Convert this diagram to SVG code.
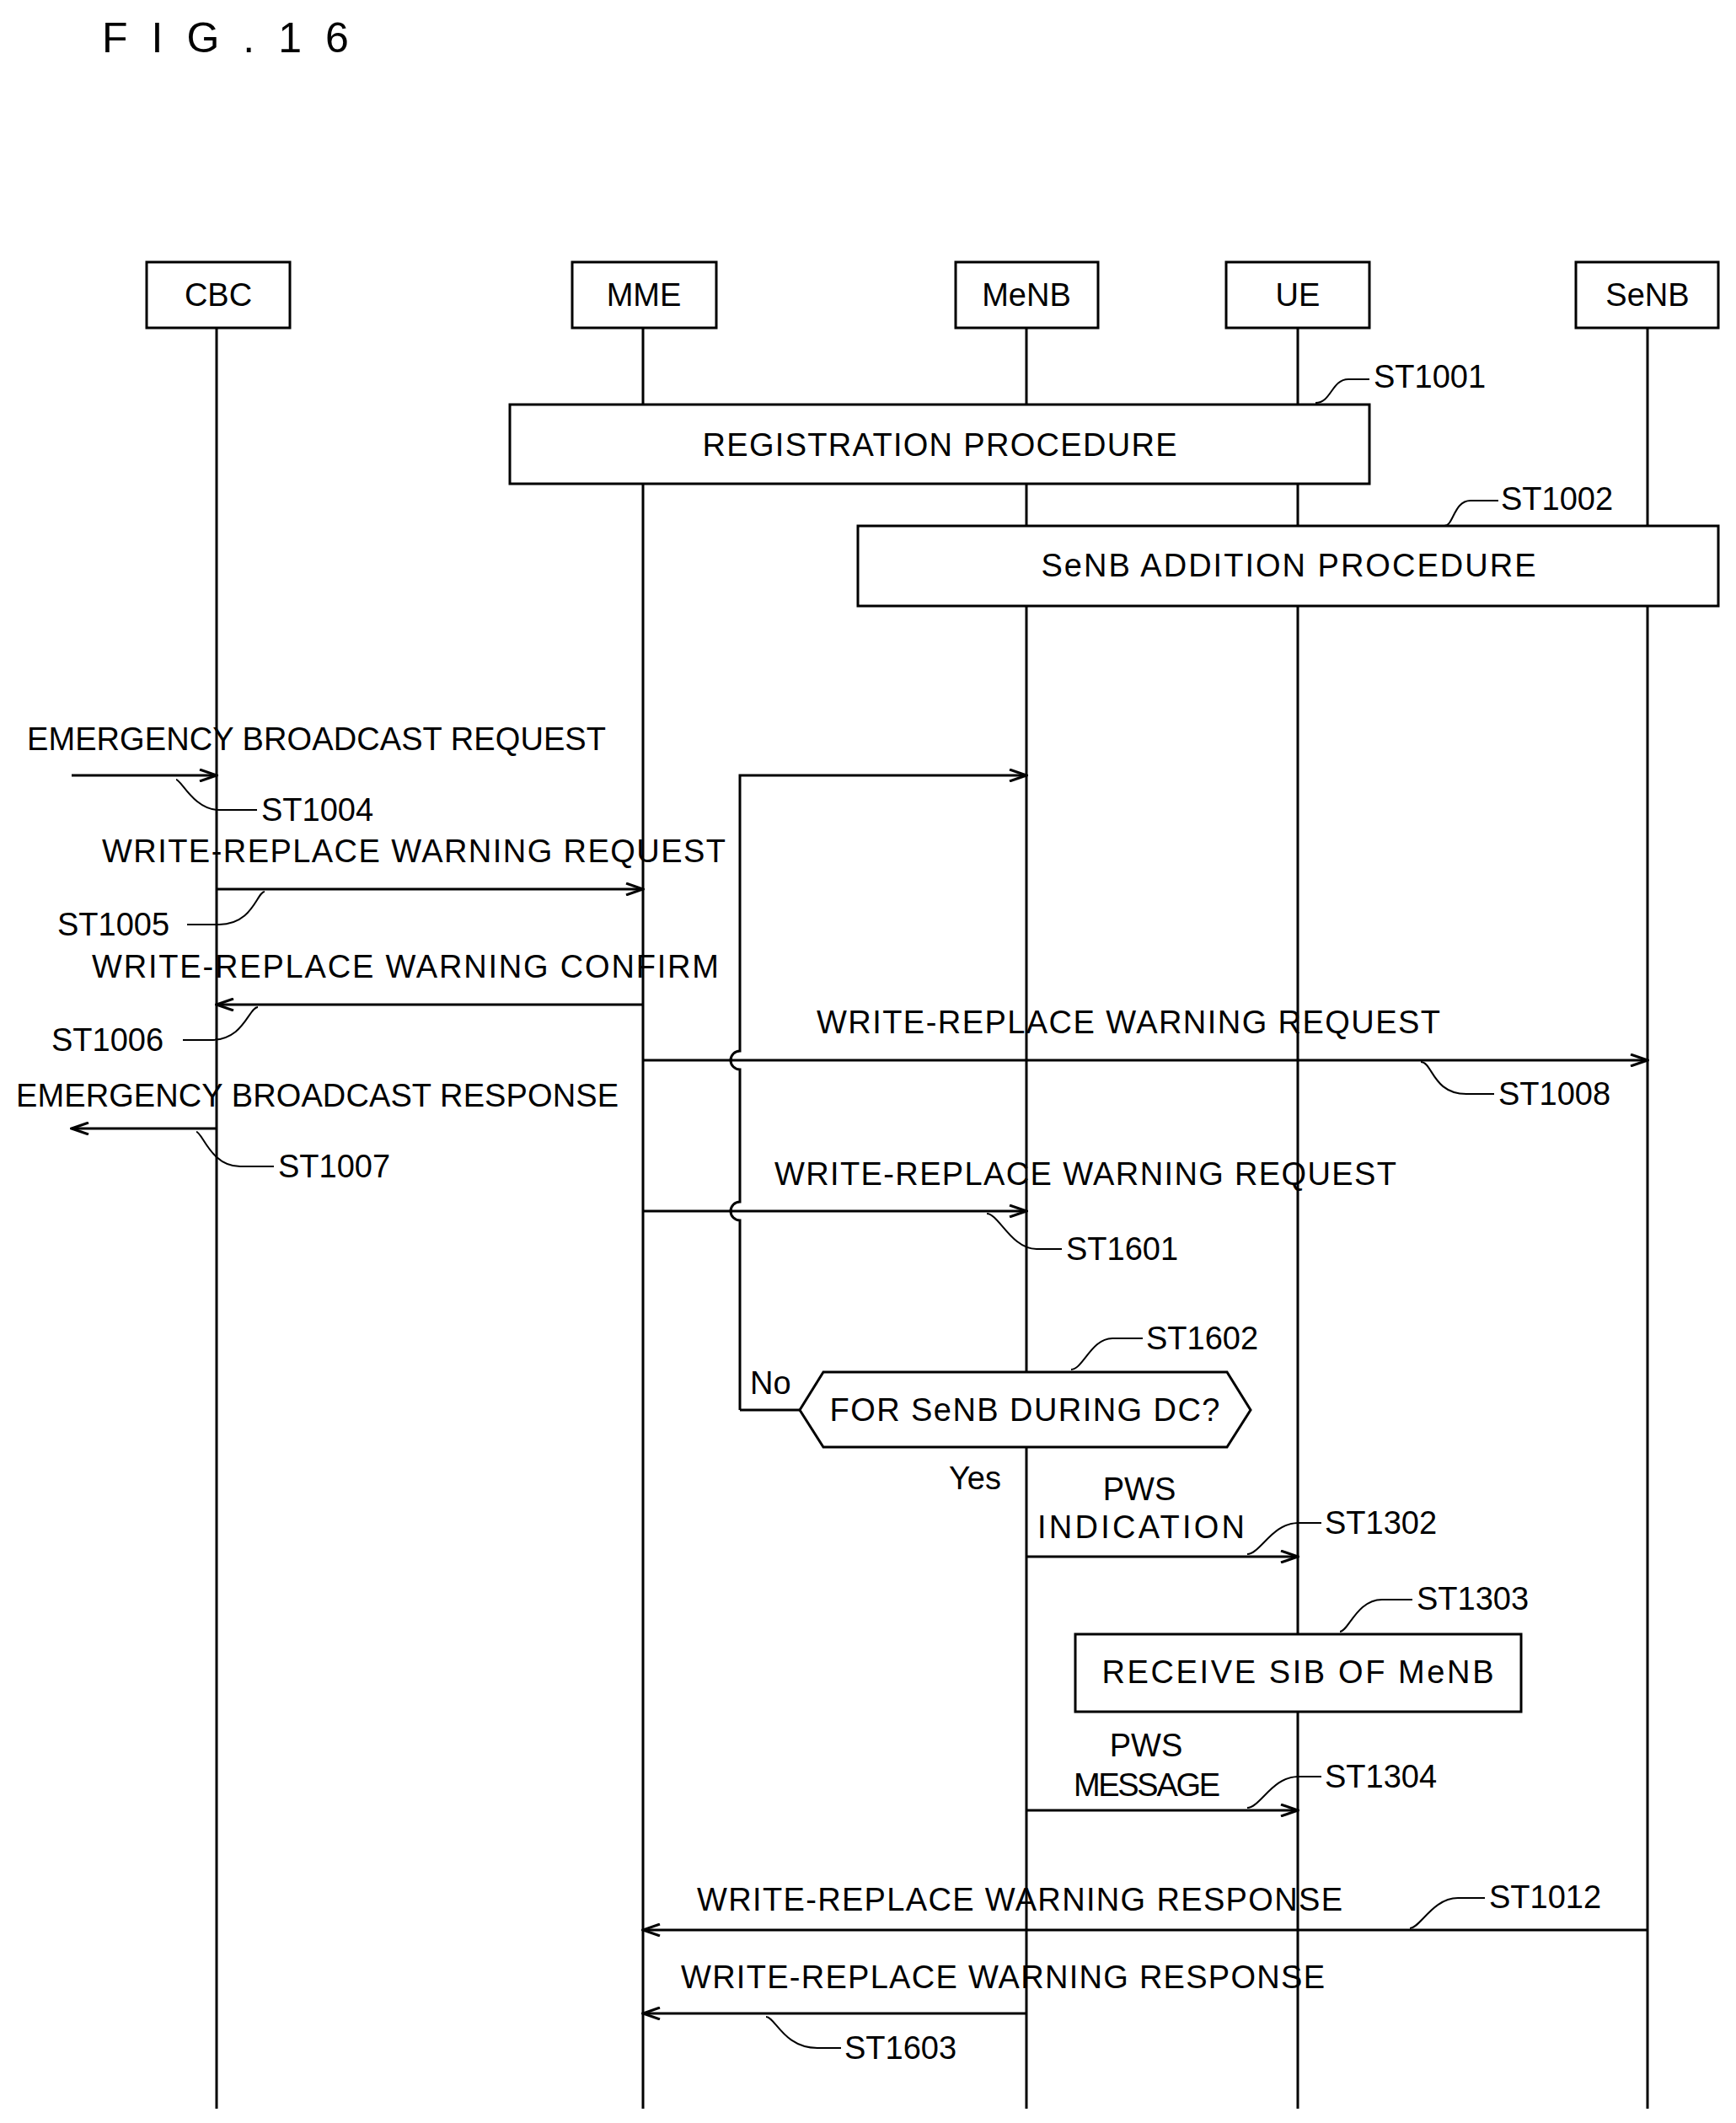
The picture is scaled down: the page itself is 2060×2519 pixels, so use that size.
<svg xmlns="http://www.w3.org/2000/svg" width="2060" height="2519" viewBox="0 0 2060 2519">
<style>
text{font-family:"Liberation Sans","DejaVu Sans",sans-serif;font-size:38px;fill:#000}
.m{text-anchor:middle}
.l{stroke:#000;stroke-width:3;fill:none}
.b{stroke:#000;stroke-width:3;fill:#fff}
</style>
<defs><marker id="a" markerWidth="24" markerHeight="16" refX="22" refY="8" orient="auto" markerUnits="userSpaceOnUse"><polyline points="2,1 22,8 2,15" fill="none" stroke="#000" stroke-width="3"/></marker></defs>
<rect width="2060" height="2519" fill="#fff"/>
<text x="121" y="62" style="font-size:50px" letter-spacing="28">FIG.16</text>
<g id="lifelines" class="l">
<path d="M257 389V2502M763 389V2502M1218 389V2502M1540 389V2502M1955 389V2502"/>
</g>
<g id="CBC"><rect class="b" x="174" y="311" width="170" height="78"/><text class="m" x="259" y="363">CBC</text></g>
<g id="MME"><rect class="b" x="679" y="311" width="171" height="78"/><text class="m" x="764" y="363">MME</text></g>
<g id="MeNB"><rect class="b" x="1134" y="311" width="169" height="78"/><text class="m" x="1218" y="363">MeNB</text></g>
<g id="UE"><rect class="b" x="1455" y="311" width="170" height="78"/><text class="m" x="1540" y="363">UE</text></g>
<g id="SeNB"><rect class="b" x="1870" y="311" width="169" height="78"/><text class="m" x="1955" y="363">SeNB</text></g>
<g id="reg"><rect class="b" x="605" y="480" width="1020" height="94"/><text class="m" x="1115" y="541" textLength="563">REGISTRATION PROCEDURE</text></g>
<g id="add"><rect class="b" x="1018" y="624" width="1021" height="95"/><text class="m" x="1529" y="684" textLength="587">SeNB ADDITION PROCEDURE</text></g>
<g id="dec"><polygon class="b" points="949,1673 977,1628 1456,1628 1484,1673 1456,1717 977,1717"/><text class="m" x="1216" y="1686" textLength="463">FOR SeNB DURING DC?</text></g>
<g id="sib"><rect class="b" x="1276" y="1939" width="529" height="92"/><text class="m" x="1540" y="1997" textLength="465">RECEIVE SIB OF MeNB</text></g>
<g id="connectors" class="l">
<path d="M85 920H257" marker-end="url(#a)"/>
<path d="M257 1055H763" marker-end="url(#a)"/>
<path d="M763 1192H257" marker-end="url(#a)"/>
<path d="M763 1258H1955" marker-end="url(#a)"/>
<path d="M257 1339H85" marker-end="url(#a)"/>
<path d="M763 1437H1218" marker-end="url(#a)"/>
<path d="M878 1673V1448A11 11 0 0 1 878 1426V1269A11 11 0 0 1 878 1247V920H1218" marker-end="url(#a)"/>
<path d="M878 1673H949"/>
<path d="M1218 1847H1540" marker-end="url(#a)"/>
<path d="M1218 2148H1540" marker-end="url(#a)"/>
<path d="M1955 2290H763" marker-end="url(#a)"/>
<path d="M1218 2389H763" marker-end="url(#a)"/>
<g stroke-width="2">
<path d="M1561 478C1580 478 1580 450 1600 450H1625"/>
<path d="M1714 624C1725 624 1725 594 1745 594H1778"/>
<path d="M209 925C215 925 230 961 260 961H305"/>
<path d="M314 1058C305 1058 300 1097 260 1097H222"/>
<path d="M306 1195C295 1195 290 1234 250 1234H217"/>
<path d="M1686 1260C1700 1260 1700 1298 1740 1298H1773"/>
<path d="M233 1343C240 1343 250 1384 285 1384H325"/>
<path d="M1171 1440C1185 1440 1200 1482 1230 1482H1260"/>
<path d="M1271 1625C1285 1625 1295 1588 1320 1588H1356"/>
<path d="M1480 1844C1495 1844 1510 1807 1540 1807H1568"/>
<path d="M1590 1936C1600 1936 1610 1898 1640 1898H1676"/>
<path d="M1480 2145C1495 2145 1510 2108 1540 2108H1568"/>
<path d="M1673 2288C1685 2288 1700 2252 1730 2252H1762"/>
<path d="M909 2393C920 2393 930 2430 970 2430H998"/>
</g>
</g>
<g id="labels">
<text x="1630" y="460">ST1001</text>
<text x="1781" y="605">ST1002</text>
<text x="32" y="890" textLength="687">EMERGENCY BROADCAST REQUEST</text>
<text x="310" y="974">ST1004</text>
<text x="121" y="1023" textLength="740">WRITE-REPLACE WARNING REQUEST</text>
<text x="68" y="1110">ST1005</text>
<text x="109" y="1160" textLength="744">WRITE-REPLACE WARNING CONFIRM</text>
<text x="61" y="1247">ST1006</text>
<text x="969" y="1226" textLength="740">WRITE-REPLACE WARNING REQUEST</text>
<text x="1778" y="1311">ST1008</text>
<text x="19" y="1313" textLength="715">EMERGENCY BROADCAST RESPONSE</text>
<text x="330" y="1397">ST1007</text>
<text x="919" y="1406" textLength="738">WRITE-REPLACE WARNING REQUEST</text>
<text x="1265" y="1495">ST1601</text>
<text x="1360" y="1601">ST1602</text>
<text x="890" y="1654">No</text>
<text x="1126" y="1767">Yes</text>
<text class="m" x="1352" y="1780">PWS</text>
<text x="1231" y="1825" textLength="246">INDICATION</text>
<text x="1572" y="1820">ST1302</text>
<text x="1681" y="1910">ST1303</text>
<text class="m" x="1360" y="2084">PWS</text>
<text x="1274" y="2131" textLength="174">MESSAGE</text>
<text x="1572" y="2121">ST1304</text>
<text x="827" y="2267" textLength="766">WRITE-REPLACE WARNING RESPONSE</text>
<text x="1767" y="2264">ST1012</text>
<text x="808" y="2359" textLength="764">WRITE-REPLACE WARNING RESPONSE</text>
<text x="1002" y="2443">ST1603</text>
</g>
</svg>
